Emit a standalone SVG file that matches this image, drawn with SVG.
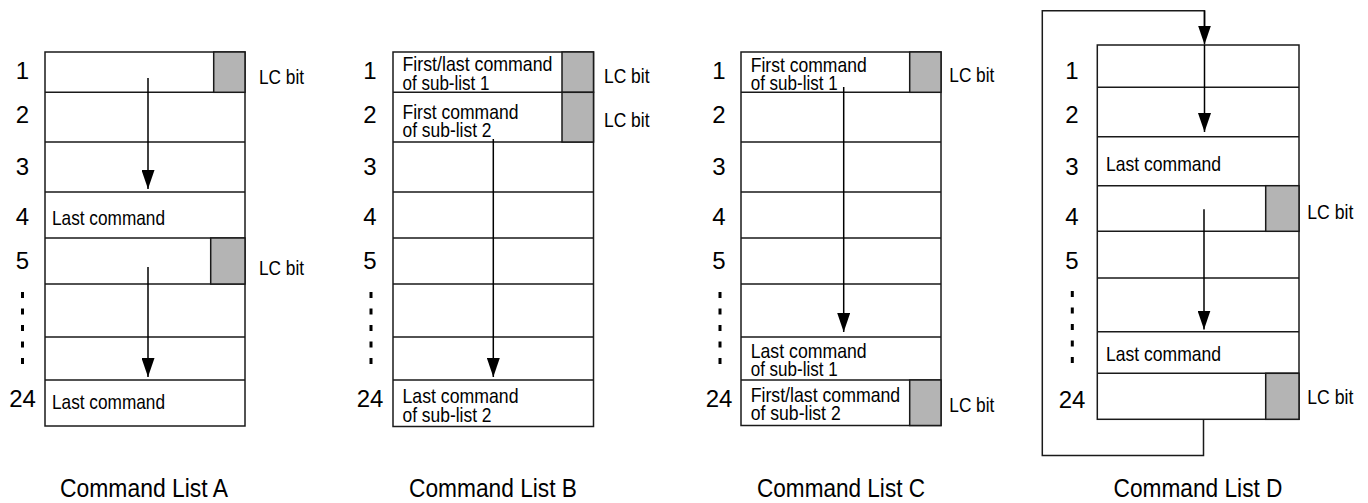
<svg xmlns="http://www.w3.org/2000/svg" width="1368" height="503" viewBox="0 0 1368 503">
<style>
.box{fill:#fff;stroke:#1a1a1a;stroke-width:1.5}
.row{stroke:#1a1a1a;stroke-width:1.5;fill:none}
.lc{fill:#b4b4b4;stroke:#1a1a1a;stroke-width:1.5}
.t{font-family:"Liberation Sans",Arial,Helvetica,sans-serif;font-size:21px;fill:#000}
.num{font-family:"Liberation Sans",Arial,Helvetica,sans-serif;font-size:24px;fill:#000;text-anchor:middle}
.cap{font-family:"Liberation Sans",Arial,Helvetica,sans-serif;font-size:26px;fill:#000;text-anchor:middle}
.dots{stroke:#000;stroke-width:3;stroke-dasharray:6 10.5;fill:none}
.arr{stroke:#000;stroke-width:1.5;fill:none;marker-end:url(#ah)}
.loop{stroke:#1a1a1a;stroke-width:1.5;fill:none}
</style>
<defs>
<marker id="ah" viewBox="0 0 19 13" refX="19" refY="6.5" markerWidth="19" markerHeight="13" markerUnits="userSpaceOnUse" orient="auto">
<path d="M0,0 L19,6.5 L0,13 Z" fill="#000"/>
</marker>
</defs>

<g id="listA">
<rect class="box" x="45" y="52" width="200" height="374"/>
<path class="row" d="M45,92.3H245M45,142H245M45,192H245M45,238H245M45,284H245M45,337H245M45,380H245"/>
<rect class="lc" x="213.7" y="52" width="31.3" height="40.3"/>
<rect class="lc" x="210.7" y="238" width="34.3" height="46"/>
<text class="num" x="22.5" y="79">1</text>
<text class="num" x="22.5" y="123">2</text>
<text class="num" x="22.5" y="175">3</text>
<text class="num" x="22.5" y="225">4</text>
<text class="num" x="22.5" y="269">5</text>
<path class="dots" d="M22.5,292V365"/>
<text class="num" x="22.5" y="407">24</text>
<text class="t" x="52" y="225" textLength="113" lengthAdjust="spacingAndGlyphs">Last command</text>
<text class="t" x="52" y="409" textLength="113" lengthAdjust="spacingAndGlyphs">Last command</text>
<text class="t" x="259" y="84" textLength="45" lengthAdjust="spacingAndGlyphs">LC bit</text>
<text class="t" x="259" y="275" textLength="45" lengthAdjust="spacingAndGlyphs">LC bit</text>
<text class="cap" x="144" y="497" textLength="168" lengthAdjust="spacingAndGlyphs">Command List A</text>
</g>

<g id="listB">
<rect class="box" x="393" y="52" width="200.5" height="374.5"/>
<path class="row" d="M393,92.3H593.5M393,142H593.5M393,192H593.5M393,238H593.5M393,284H593.5M393,337H593.5M393,380H593.5"/>
<rect class="lc" x="562" y="52" width="31.5" height="40.3"/>
<rect class="lc" x="562" y="92.3" width="31.5" height="49.7"/>
<text class="num" x="370" y="79">1</text>
<text class="num" x="370" y="123">2</text>
<text class="num" x="370" y="175">3</text>
<text class="num" x="370" y="225">4</text>
<text class="num" x="370" y="269">5</text>
<path class="dots" d="M371,292V365"/>
<text class="num" x="370" y="407">24</text>
<text class="t"><tspan x="402.5" y="70.5" textLength="150" lengthAdjust="spacingAndGlyphs">First/last command</tspan><tspan x="402.5" y="89.5" textLength="87" lengthAdjust="spacingAndGlyphs">of sub-list 1</tspan></text>
<text class="t"><tspan x="402.5" y="118.5" textLength="116" lengthAdjust="spacingAndGlyphs">First command</tspan><tspan x="402.5" y="137" textLength="89" lengthAdjust="spacingAndGlyphs">of sub-list 2</tspan></text>
<text class="t"><tspan x="402.5" y="403.3" textLength="116" lengthAdjust="spacingAndGlyphs">Last command</tspan><tspan x="402.5" y="421.7" textLength="89" lengthAdjust="spacingAndGlyphs">of sub-list 2</tspan></text>
<text class="t" x="604" y="83" textLength="45.5" lengthAdjust="spacingAndGlyphs">LC bit</text>
<text class="t" x="604" y="127" textLength="45.5" lengthAdjust="spacingAndGlyphs">LC bit</text>
<text class="cap" x="493" y="497" textLength="168" lengthAdjust="spacingAndGlyphs">Command List B</text>
</g>

<g id="listC">
<rect class="box" x="741" y="52" width="200" height="373.5"/>
<path class="row" d="M741,92.3H941M741,142H941M741,192H941M741,238H941M741,284H941M741,337H941M741,380H941"/>
<rect class="lc" x="909.7" y="52" width="31.3" height="40.3"/>
<rect class="lc" x="909.7" y="380" width="31.3" height="45.5"/>
<text class="num" x="719" y="79">1</text>
<text class="num" x="719" y="123">2</text>
<text class="num" x="719" y="175">3</text>
<text class="num" x="719" y="225">4</text>
<text class="num" x="719" y="269">5</text>
<path class="dots" d="M720,292V365"/>
<text class="num" x="719" y="407">24</text>
<text class="t"><tspan x="750.7" y="71.7" textLength="116" lengthAdjust="spacingAndGlyphs">First command</tspan><tspan x="750.7" y="90" textLength="87" lengthAdjust="spacingAndGlyphs">of sub-list 1</tspan></text>
<text class="t"><tspan x="750.7" y="358" textLength="116" lengthAdjust="spacingAndGlyphs">Last command</tspan><tspan x="750.7" y="376" textLength="87" lengthAdjust="spacingAndGlyphs">of sub-list 1</tspan></text>
<text class="t"><tspan x="750.7" y="401.7" textLength="149.5" lengthAdjust="spacingAndGlyphs">First/last command</tspan><tspan x="750.7" y="420" textLength="90" lengthAdjust="spacingAndGlyphs">of sub-list 2</tspan></text>
<text class="t" x="949.3" y="82" textLength="45" lengthAdjust="spacingAndGlyphs">LC bit</text>
<text class="t" x="949.3" y="412" textLength="45" lengthAdjust="spacingAndGlyphs">LC bit</text>
<text class="cap" x="841" y="497" textLength="168" lengthAdjust="spacingAndGlyphs">Command List C</text>
</g>

<g id="listD">
<rect class="box" x="1097.3" y="45" width="201.7" height="374.3"/>
<path class="row" d="M1097.3,87.3H1299M1097.3,136.7H1299M1097.3,185.7H1299M1097.3,231.3H1299M1097.3,278H1299M1097.3,331.7H1299M1097.3,373.3H1299"/>
<rect class="lc" x="1265.7" y="185.7" width="33.3" height="45.6"/>
<rect class="lc" x="1265.7" y="373.3" width="33.3" height="46"/>
<text class="num" x="1072" y="79">1</text>
<text class="num" x="1072" y="123">2</text>
<text class="num" x="1072" y="175">3</text>
<text class="num" x="1072" y="225">4</text>
<text class="num" x="1072" y="268.5">5</text>
<path class="dots" d="M1072.3,291V363"/>
<text class="num" x="1072" y="408">24</text>
<text class="t" x="1106" y="170.7" textLength="115" lengthAdjust="spacingAndGlyphs">Last command</text>
<text class="t" x="1106" y="361" textLength="115" lengthAdjust="spacingAndGlyphs">Last command</text>
<text class="t" x="1307.3" y="219" textLength="46" lengthAdjust="spacingAndGlyphs">LC bit</text>
<text class="t" x="1307.3" y="404.3" textLength="46" lengthAdjust="spacingAndGlyphs">LC bit</text>
<text class="cap" x="1198" y="497" textLength="169" lengthAdjust="spacingAndGlyphs">Command List D</text>
</g>

<g id="connectors">
<path class="arr" d="M148,78V189"/>
<path class="arr" d="M148,267V377"/>
<path class="arr" d="M493.3,139V377"/>
<path class="arr" d="M843.7,87V332"/>
<path class="loop" d="M1203.5,419.3V455.5H1042.3V10.7H1204.5V30"/>
<path class="arr" d="M1204.5,10.7V44.5"/>
<path class="arr" d="M1204.5,45V132"/>
<path class="arr" d="M1204,209.3V329.5"/>
</g>
</svg>
